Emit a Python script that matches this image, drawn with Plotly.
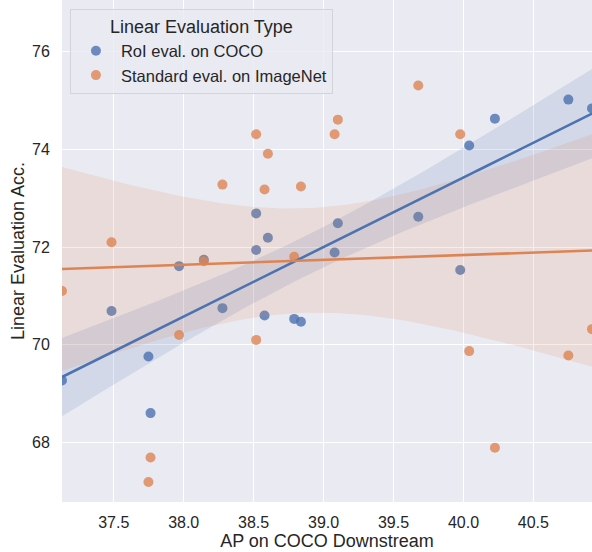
import numpy as np
import plotly.graph_objects as go

# AP on COCO downstream (shared by both evaluation types)
ap_coco = [37.13, 37.484, 37.748, 37.763, 37.967, 38.144, 38.277, 38.518, 38.602, 38.518,
           38.578, 38.790, 38.838, 39.102, 39.079, 39.677, 39.977, 40.041, 40.225, 40.750, 40.919]
# Linear evaluation accuracy, RoI eval. on COCO
roi_acc = [69.27, 70.69, 69.76, 68.60, 71.61, 71.74, 70.75, 72.69, 72.19, 71.94,
           70.60, 70.53, 70.47, 72.49, 71.89, 72.62, 71.53, 74.08, 74.63, 75.02, 74.84]
# Linear evaluation accuracy, standard eval. on ImageNet
std_ap = [37.13, 37.484, 37.763, 37.748, 37.967, 38.144, 38.277, 38.518, 38.602, 38.578,
          38.518, 38.790, 38.838, 39.102, 39.079, 39.677, 39.977, 40.041, 40.225, 40.750, 40.919]
std_acc = [71.10, 72.10, 67.69, 67.19, 70.20, 71.71, 73.28, 74.31, 73.91, 73.18,
           70.10, 71.80, 73.24, 74.61, 74.31, 75.31, 74.31, 69.87, 67.89, 69.78, 70.32]

series_names = ["RoI eval. on COCO", "Standard eval. on ImageNet"]
colors = ["#4C72B0", "#DD8452"]
band_colors = ["rgba(76,114,176,0.15)", "rgba(221,132,82,0.15)"]
pt_colors = ["rgba(76,114,176,0.8)", "rgba(221,132,82,0.8)"]

FONT = "Liberation Sans, Arial, DejaVu Sans, sans-serif"
TXT = "#262626"


def fit(x, y):
    x = np.asarray(x, float)
    y = np.asarray(y, float)
    n = len(x)
    b, a = np.polyfit(x, y, 1)
    grid = np.linspace(x.min(), x.max(), 100)
    yhat = a + b * grid
    resid = y - (a + b * x)
    s = np.sqrt(np.sum(resid ** 2) / (n - 2))
    sxx = np.sum((x - x.mean()) ** 2)
    se = s * np.sqrt(1.0 / n + (grid - x.mean()) ** 2 / sxx)
    z = 1.96
    return grid, yhat, yhat - z * se, yhat + z * se


datasets = [(ap_coco, roi_acc), (std_ap, std_acc)]
fig = go.Figure()
line_traces = []
for i, (xs, ys) in enumerate(datasets):
    fig.add_trace(go.Scatter(
        x=xs, y=ys, mode="markers", name=series_names[i],
        marker=dict(size=10, color=pt_colors[i], line=dict(width=0)),
    ))
    g, yh, lo, hi = fit(xs, ys)
    fig.add_trace(go.Scatter(
        x=np.concatenate([g, g[::-1]]), y=np.concatenate([hi, lo[::-1]]),
        mode="lines", fill="toself", fillcolor=band_colors[i],
        line=dict(width=0), hoverinfo="skip", showlegend=False,
    ))
    line_traces.append(go.Scatter(
        x=g, y=yh, mode="lines", line=dict(color=colors[i], width=2.6),
        showlegend=False, hoverinfo="skip",
    ))
for tr in line_traces:
    fig.add_trace(tr)

xmin = min(min(ap_coco), min(std_ap))
xmax = max(max(ap_coco), max(std_ap))

fig.update_layout(
    width=592, height=552,
    margin=dict(l=62, r=0, t=0, b=50),
    paper_bgcolor="white", plot_bgcolor="#EAEAF2",
    font=dict(family=FONT, color=TXT, size=16),
    legend=dict(
        x=0.015, y=0.982, xanchor="left", yanchor="top",
        bgcolor="rgba(234,234,242,0.8)", bordercolor="#D3D3DA", borderwidth=1,
        font=dict(size=16.5, color=TXT),
        title=dict(text="Linear Evaluation Type", font=dict(size=18, color=TXT), side="top center"),
        itemwidth=40,
    ),
    xaxis=dict(
        range=[xmin, xmax], tickvals=[37.5, 38.0, 38.5, 39.0, 39.5, 40.0, 40.5],
        tickformat=".1f", showgrid=True, gridcolor="white", gridwidth=1.3,
        zeroline=False, showline=False, ticks="outside", ticklen=6, tickcolor="rgba(0,0,0,0)",
        tickfont=dict(size=16, color=TXT),
        title=dict(text="AP on COCO Downstream", font=dict(size=18, color=TXT), standoff=4),
    ),
    yaxis=dict(
        range=[66.78, 77.06], tickvals=[68, 70, 72, 74, 76],
        showgrid=True, gridcolor="white", gridwidth=1.3,
        zeroline=False, showline=False, ticks="outside", ticklen=8, tickcolor="rgba(0,0,0,0)",
        tickfont=dict(size=16, color=TXT),
        title=dict(text="Linear Evaluation Acc.", font=dict(size=18, color=TXT), standoff=2),
    ),
)

fig.write_html("out.html", config={"displayModeBar": False},
               post_script="document.body.style.margin='0px';")
